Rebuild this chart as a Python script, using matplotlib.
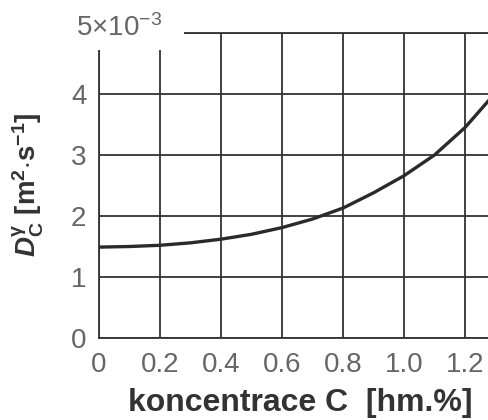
import numpy as np
import matplotlib
matplotlib.use('Agg')
import matplotlib.pyplot as plt
from matplotlib.patches import Rectangle

plt.rcParams['font.family'] = ['Liberation Sans', 'DejaVu Sans']
plt.rcParams['mathtext.fontset'] = 'custom'
plt.rcParams['mathtext.rm'] = 'Liberation Sans'
plt.rcParams['mathtext.bf'] = 'Liberation Sans:bold'
plt.rcParams['mathtext.it'] = 'Liberation Sans:italic'
plt.rcParams['mathtext.bfit'] = 'Liberation Sans:bold:italic'

# carbon concentration [wt.%] vs diffusion coefficient (x 1e-3)
conc = [0.0, 0.1, 0.2, 0.3, 0.4, 0.5, 0.6, 0.7, 0.8, 0.9, 1.0, 1.1, 1.2, 1.3]
diff = [1.49, 1.50, 1.52, 1.56, 1.62, 1.70, 1.81, 1.95, 2.13, 2.38, 2.66, 3.00, 3.45, 4.02]

xticks = [0.0, 0.2, 0.4, 0.6, 0.8, 1.0, 1.2, 1.4]
xticklabels = ['0', '0.2', '0.4', '0.6', '0.8', '1.0', '1.2', '']
yticks = [0, 1, 2, 3, 4, 5]
yticklabels = ['0', '1', '2', '3', '4', '']

grid_col = '#333333'
tick_col = '#666666'
lab_col = '#333333'

fig = plt.figure(figsize=(4.88, 4.2), dpi=100)
# axes runs past the right edge of the figure (image is cropped there)
ax = fig.add_axes([99/488, 82/420, 427/488, 305/420])
ax.set_xlim(0, 1.4)
ax.set_ylim(0, 5)

ax.set_xticks(xticks)
ax.set_xticklabels(xticklabels)
ax.set_yticks(yticks)
ax.set_yticklabels(yticklabels)
ax.tick_params(length=0, labelsize=20, labelcolor=tick_col)
ax.tick_params(axis='x', pad=10)
ax.tick_params(axis='y', pad=9)
ax.grid(True, color=grid_col, linewidth=1.3)
for s in ax.spines.values():
    s.set_color(grid_col)
    s.set_linewidth(1.3)

ax.plot(conc, diff, color='#2a2a2a', linewidth=2.4, solid_capstyle='round', zorder=3)

# white patch behind the exponent label (covers top-left grid)
ax.add_patch(Rectangle((-0.07, 0.944), 0.27, 0.2, transform=ax.transAxes,
                       facecolor='white', edgecolor='none', clip_on=False, zorder=5))
ax.text(-0.055, 1.015, r'5$\times$10$^{-3}$', transform=ax.transAxes,
        ha='left', va='center', fontsize=20, color=tick_col, zorder=6)

fig.text(300/488, 17/420, 'koncentrace C  [hm.%]', ha='center', va='center',
         fontsize=23, fontweight='bold', color=lab_col)
fig.text(28/488, 235/420,
         r'$\mathbfit{D}_{\mathbf{C}}^{\mathbf{\gamma}}\ \mathbf{[m^{2}{\cdot}s^{-1}]}$',
         rotation=90, ha='center', va='center', fontsize=20, color=lab_col)

fig.savefig('out.png', dpi=100)
